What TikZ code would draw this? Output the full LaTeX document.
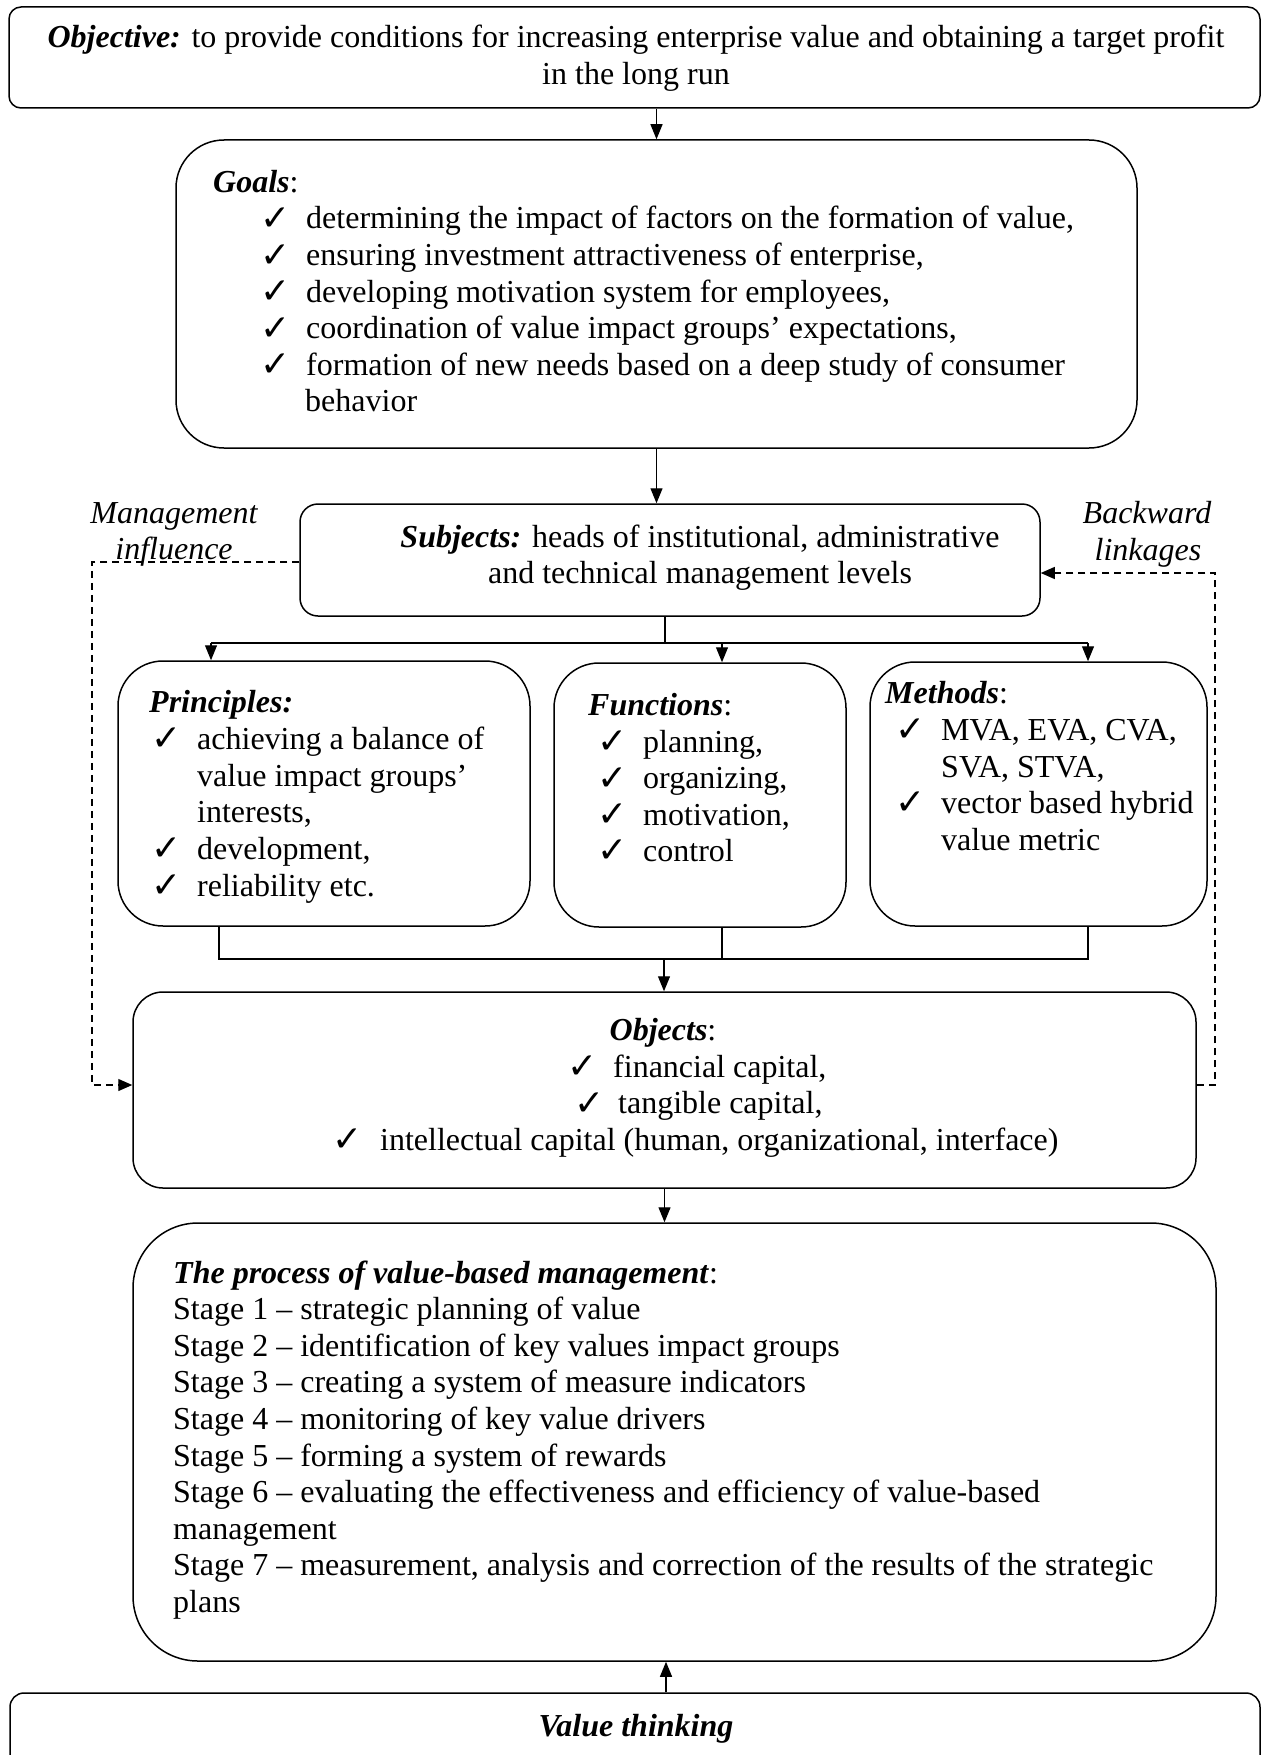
\documentclass[tikz,border=0pt]{standalone}
\usepackage{fontspec}
\setmainfont{Liberation Serif}
\newfontfamily\ckfont{DejaVu Sans}
\usetikzlibrary{arrows.meta}
\newcommand\fs{\fontsize{32}{37}\selectfont}
\newcommand\ckmark{\raisebox{-1.5pt}{\fontsize{36}{36}\selectfont\ckfont ✓}}
\newcommand\ckl[1][46pt]{\makebox[#1][l]{\ckmark}}
\newcommand\bi[1]{\textbf{\textit{#1}}}
\begin{document}
\begin{tikzpicture}[x=1pt,y=-1pt,
  rbox/.style={draw, line width=1.5pt, inner sep=0pt, rounded corners=#1},
  txt/.style={inner sep=0pt, anchor=base west, font=\fs},
  ctxt/.style={inner sep=0pt, anchor=base, font=\fs},
  itxt/.style={inner sep=0pt, anchor=base, font=\fs\itshape},
  conn/.style={line width=1.2pt},
  arr/.style={conn, -{Triangle[length=15pt,width=12pt]}},
  darr/.style={conn, dash pattern=on 7pt off 5pt, -{Triangle[length=14pt,width=12pt]}}]
\useasboundingbox (0,0) rectangle (1262,1755);
\clip (0,0) rectangle (1262,1755);
% boxes
\node[rbox=12pt, minimum width=1251pt, minimum height=101pt] (obj) at (634.5,57.5) {};
\node[rbox=48pt, minimum width=961pt, minimum height=308pt] (goals) at (656.5,294) {};
\node[rbox=18pt, minimum width=740pt, minimum height=112pt] (subj) at (670,560) {};
\node[rbox=45pt, minimum width=412pt, minimum height=265pt] (prin) at (324,793.5) {};
\node[rbox=45pt, minimum width=292pt, minimum height=264pt] (func) at (700,795) {};
\node[rbox=45pt, minimum width=337pt, minimum height=264pt] (meth) at (1038.5,794) {};
\node[rbox=30pt, minimum width=1063pt, minimum height=196pt] (objs) at (664.5,1090) {};
\node[rbox=65pt, minimum width=1083pt, minimum height=438pt] (proc) at (674.5,1442) {};
\node[rbox=14pt, minimum width=1250pt, minimum height=87pt] (vt) at (635,1736.5) {};
% objective
\node[ctxt] (objt1) at (636,48) {\bi{Objective:} to provide conditions for increasing enterprise value and obtaining a target profit};
\node[ctxt] (objt2) at (636,85) {in the long run};
% goals
\node[txt] (gt) at (213,193) {\bi{Goals}:};
\node[txt] (g1) at (260,229) {\ckl determining the impact of factors on the formation of value,};
\node[txt] (g2) at (260,265.5) {\ckl ensuring investment attractiveness of enterprise,};
\node[txt] (g3) at (260,302) {\ckl developing motivation system for employees,};
\node[txt] (g4) at (260,338.5) {\ckl coordination of value impact groups’ expectations,};
\node[txt] (g5) at (260,375) {\ckl formation of new needs based on a deep study of consumer};
\node[txt] (g6) at (305,411.5) {behavior};
% subjects
\node[ctxt] (st1) at (700,547) {\bi{Subjects:} heads of institutional, administrative};
\node[ctxt] (st2) at (700,583) {and technical management levels};
\node[itxt] (mi1) at (174,523) {Management};
\node[itxt] (mi2) at (174,559) {influence};
\node[itxt] (bl1) at (1147,523) {Backward};
\node[itxt] (bl2) at (1148,560) {linkages};
% principles
\node[txt] (pt) at (149,712) {\bi{Principles:}};
\node[txt] (p1) at (151,749) {\ckl achieving a balance of};
\node[txt] (p2) at (197,786) {value impact groups’};
\node[txt] (p3) at (197,822.5) {interests,};
\node[txt] (p4) at (151,859) {\ckl development,};
\node[txt] (p5) at (151,896) {\ckl reliability etc.};
% functions
\node[txt] (ft) at (588,715) {\bi{Functions}:};
\node[txt] (f1) at (597,752) {\ckl planning,};
\node[txt] (f2) at (597,788.5) {\ckl organizing,};
\node[txt] (f3) at (597,825) {\ckl motivation,};
\node[txt] (f4) at (597,861) {\ckl control};
% methods
\node[txt] (mt) at (885,703) {\bi{Methods}:};
\node[txt] (m1) at (895,740) {\ckl MVA, EVA, CVA,};
\node[txt] (m2) at (941,777) {SVA, STVA,};
\node[txt] (m3) at (895,813) {\ckl vector based hybrid};
\node[txt] (m4) at (941,850) {value metric};
% objects
\node[ctxt] (ot) at (663,1040) {\bi{Objects}:};
\node[txt] (o1) at (567,1077) {\ckl[38pt] financial capital,};
\node[txt] (o2) at (574,1113.5) {\ckl[36pt] tangible capital,};
\node[txt] (o3) at (332,1150) {\ckl[40pt] intellectual capital (human, organizational, interface)};
% process
\node[txt] (pr0) at (173,1283) {\bi{The process of value-based management}:};
\node[txt] (pr1) at (173,1319.6) {Stage 1 – strategic planning of value};
\node[txt] (pr2) at (173,1356.2) {Stage 2 – identification of key values impact groups};
\node[txt] (pr3) at (173,1392.8) {Stage 3 – creating a system of measure indicators};
\node[txt] (pr4) at (173,1429.4) {Stage 4 – monitoring of key value drivers};
\node[txt] (pr5) at (173,1466) {Stage 5 – forming a system of rewards};
\node[txt] (pr6) at (173,1502.6) {Stage 6 – evaluating the effectiveness and efficiency of value-based};
\node[txt] (pr7) at (173,1539.2) {management};
\node[txt] (pr8) at (173,1575.8) {Stage 7 – measurement, analysis and correction of the results of the strategic};
\node[txt] (pr9) at (173,1612.4) {plans};
% value thinking
\node[ctxt] (vtt) at (636,1736) {\bi{Value thinking}};
% connectors
\draw[arr] (obj.south -| goals.north) -- (goals.north);
\draw[arr] (goals.south) -- (goals.south |- subj.north);
\coordinate (busT) at (665,643);
\coordinate (busL) at (211,643);
\coordinate (busM) at (722,643);
\coordinate (busR) at (1088,643);
\draw[conn] (subj.south -| busT) -- (busT);
\draw[conn] (busL) -- (busR);
\draw[arr] (busL) -- (busL |- prin.north);
\draw[arr] (busM) -- (busM |- func.north);
\draw[arr] (busR) -- (busR |- meth.north);
\coordinate (botL) at (219,959);
\coordinate (botM) at (722,959);
\coordinate (botR) at (1088,959);
\coordinate (botA) at (664,959);
\draw[conn] (prin.south -| botL) -- (botL) -- (botR) -- (meth.south -| botR);
\draw[conn] (func.south -| botM) -- (botM);
\draw[arr] (botA) -- (botA |- objs.north);
\draw[arr] (objs.south) -- (objs.south |- proc.north);
\coordinate (vtA) at (666,1700);
\draw[arr] (vt.north -| vtA) -- (proc.south -| vtA);
% dashed feedback lines
\coordinate (mA) at (92,562);
\coordinate (mB) at (92,1085);
\draw[darr] (subj.west |- mA) -- (mA) -- (mB) -- (objs.west |- mB);
\coordinate (bA) at (1215,1085);
\coordinate (bB) at (1215,573);
\draw[darr] (objs.east |- bA) -- (bA) -- (bB) -- (subj.east |- bB);
\end{tikzpicture}
\end{document}
